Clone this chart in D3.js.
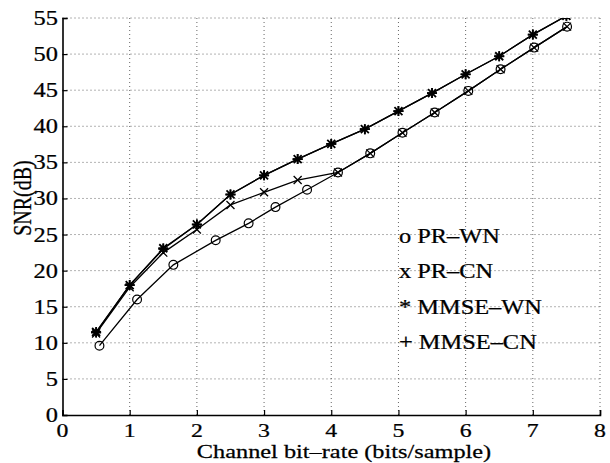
<!DOCTYPE html>
<html>
<head>
<meta charset="utf-8">
<script src="https://cdn.jsdelivr.net/npm/d3@7"></script>
<style>
  body { margin: 0; background: #fff; }
  text { font-family: "Liberation Serif", "DejaVu Serif", serif; fill: #000; stroke: #000; stroke-width: 0.25px; }
</style>
</head>
<body>
<div id="chart"></div>
<script>

		// values
		var prWnX = [0.55, 1.11, 1.65, 2.28, 2.77, 3.17, 3.64, 4.10, 4.58, 5.06, 5.54, 6.04, 6.52, 7.02, 7.51];
		var prWnY = [9.6, 16.0, 20.8, 24.2, 26.55, 28.8, 31.2, 33.6, 36.25, 39.1, 41.9, 44.9, 47.9, 50.9, 53.8];

		var prCnX = [0.5, 1.0, 1.5, 2.0, 2.5, 3.0, 3.5, 4.10, 4.58, 5.06, 5.54, 6.04, 6.52, 7.02, 7.51];
		var prCnY = [11.3, 17.7, 22.5, 25.7, 29.1, 30.85, 32.55, 33.6, 36.25, 39.1, 41.9, 44.9, 47.9, 50.9, 53.8];

		var mmseWnX = [0.5, 1.0, 1.5, 2.0, 2.5, 3.0, 3.5, 4.0, 4.5, 5.0, 5.5, 6.0, 6.5, 7.0, 7.5];
		var mmseWnY = [11.5, 18.0, 23.1, 26.4, 30.55, 33.2, 35.45, 37.55, 39.6, 42.1, 44.6, 47.2, 49.7, 52.7, 55.3];

		var mmseCnX = [0.5, 1.0, 1.5, 2.0, 2.5, 3.0, 3.5, 4.0, 4.5, 5.0, 5.5, 6.0, 6.5, 7.0, 7.5];
		var mmseCnY = [11.4, 18.0, 23.0, 26.4, 30.55, 33.2, 35.45, 37.55, 39.6, 42.1, 44.6, 47.2, 49.7, 52.7, 55.3];

		var xTicks = [0, 1, 2, 3, 4, 5, 6, 7, 8];
		var yTicks = [0, 5, 10, 15, 20, 25, 30, 35, 40, 45, 50, 55];

		var legendLabels = ['o PR\u2013WN', 'x PR\u2013CN', '* MMSE\u2013WN', '+ MMSE\u2013CN'];

		var xLabel = 'Channel bit\u2013rate (bits/sample)';
		var yLabel = 'SNR(dB)';

		//the size of the graph
		var width = 610,
			height = 463;

		// the picture is a bit stretched sideways, so is the text
		var stretch = 1.22;

		var x = d3.scaleLinear()
					.domain([0, 8])
					.range([62.5, 600]);

		var y = d3.scaleLinear()
					.domain([0, 55])
					.range([415, 18]);

		var svg = d3.select('#chart')
			.append('svg')
			  .attr('width', width)
			  .attr('height', height);

		svg.append('clipPath')
				.attr('id', 'plot-clip')
			.append('rect')
				.attr('x', x(0))
				.attr('y', y(55))
				.attr('width', x(8) - x(0))
				.attr('height', y(0) - y(55));

		// dotted grid
		svg.selectAll('.grid-x')
			.data(xTicks.slice(1))
			.enter()
			.append('line')
			.attr('class', 'grid-x')
			.attr('x1', function(d) { return x(d); })
			.attr('x2', function(d) { return x(d); })
			.attr('y1', y(0))
			.attr('y2', y(55))
			.style('stroke', '#666')
			.style('stroke-width', 1)
			.style('stroke-dasharray', '1,3');

		svg.selectAll('.grid-y')
			.data(yTicks.slice(1))
			.enter()
			.append('line')
			.attr('class', 'grid-y')
			.attr('x1', x(0))
			.attr('x2', x(8))
			.attr('y1', function(d) { return y(d); })
			.attr('y2', function(d) { return y(d); })
			.style('stroke', '#666')
			.style('stroke-width', 1)
			.style('stroke-dasharray', '1,3');

		// axes, ticks pointing inwards
		svg.append('g')
			.attr('transform', 'translate(0,' + y(0) + ')')
			.call(d3.axisBottom(x).tickValues(xTicks).tickSize(-5).tickFormat(''));

		svg.append('g')
			.attr('transform', 'translate(' + x(0) + ',0)')
			.call(d3.axisLeft(y).tickValues(yTicks).tickSize(-5).tickFormat(''));

		svg.selectAll('.domain')
			.style('stroke', '#000')
			.style('stroke-width', 1.6);
		svg.selectAll('.tick line')
			.style('stroke', '#000')
			.style('stroke-width', 1.2);

		// tick labels
		svg.selectAll('.xtick-label')
			.data(xTicks)
			.enter()
			.append('text')
			.attr('class', 'xtick-label')
			.attr('transform', function(d) { return 'translate(' + x(d) + ',437) scale(' + stretch + ',1)'; })
			.attr('text-anchor', 'middle')
			.style('font-size', '19.5px')
			.text(function(d) { return d; });

		svg.selectAll('.ytick-label')
			.data(yTicks)
			.enter()
			.append('text')
			.attr('class', 'ytick-label')
			.attr('transform', function(d) { return 'translate(58,' + (y(d) + 7) + ') scale(' + stretch + ',1)'; })
			.attr('text-anchor', 'end')
			.style('font-size', '20px')
			.text(function(d) { return d; });

		svg.append('text')
			.attr('transform', 'translate(344,458) scale(1.28,1)')
			.attr('text-anchor', 'middle')
			.style('font-size', '19px')
			.text(xLabel);

		svg.append('text')
			.attr('transform', 'translate(31,198) scale(' + stretch + ',1) rotate(-90)')
			.attr('text-anchor', 'middle')
			.style('font-size', '20px')
			.text(yLabel);

		// markers
		function markerPath(type, s) {
			var plus = 'M' + (-s) + ',0H' + s + 'M0,' + (-s) + 'V' + s;
			var k = s * 0.8;
			var cross = 'M' + (-k) + ',' + (-k) + 'L' + k + ',' + k + 'M' + (-k) + ',' + k + 'L' + k + ',' + (-k);
			if (type === 'plus') return plus;
			if (type === 'cross') return cross;
			if (type === 'star') return plus + cross;
			return d3.symbol().type(d3.symbolCircle).size(Math.PI * s * s)();
		}

		var series = [
			{ xs: prWnX, ys: prWnY, marker: 'circle', size: 4.4, width: 1.2 },
			{ xs: prCnX, ys: prCnY, marker: 'cross', size: 5, width: 1.3 },
			{ xs: mmseCnX, ys: mmseCnY, marker: 'plus', size: 5, width: 1.6 },
			{ xs: mmseWnX, ys: mmseWnY, marker: 'star', size: 5, width: 1.8 }
		];

		var line = d3.line()
			.x(function(d) { return x(d[0]); })
			.y(function(d) { return y(d[1]); });

		var plot = svg.append('g')
			.attr('clip-path', 'url(#plot-clip)');

		series.forEach(function(s) {
			var pts = d3.zip(s.xs, s.ys);

			plot.append('path')
				.datum(pts)
				.attr('d', line)
				.style('fill', 'none')
				.style('stroke', '#000')
				.style('stroke-width', 1.3);

			plot.selectAll(null)
				.data(pts)
				.enter()
				.append('path')
				.attr('transform', function(d) { return 'translate(' + x(d[0]) + ',' + y(d[1]) + ')'; })
				.attr('d', markerPath(s.marker, s.size))
				.style('fill', 'none')
				.style('stroke', '#000')
				.style('stroke-width', s.width);
		});

		// legend, plain text like the original
		var legendY = [243, 278, 314, 349];

		svg.selectAll('.legend-label')
			.data(legendLabels)
			.enter()
			.append('text')
			.attr('class', 'legend-label')
			.attr('transform', function(d, i) { return 'translate(399,' + legendY[i] + ') scale(' + stretch + ',1)'; })
			.style('font-size', '20px')
			.text(function(d) { return d; });

</script>
</body>
</html>
